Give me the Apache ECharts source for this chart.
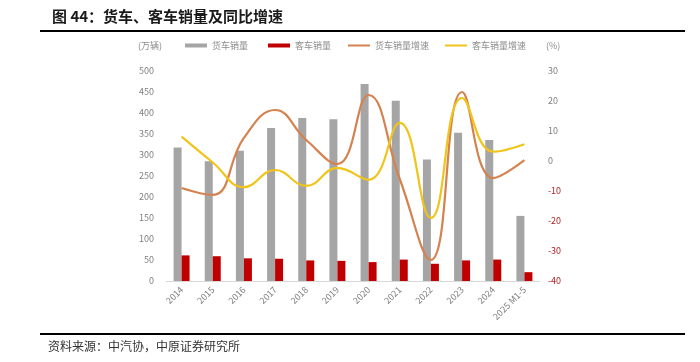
<!DOCTYPE html>
<html><head><meta charset="utf-8">
<script src="https://cdn.jsdelivr.net/npm/echarts@6/dist/echarts.min.js"></script>
<style>html,body{margin:0;padding:0;background:#fff}#c{width:700px;height:362px}</style>
</head><body><div id="c"></div>
<script>
const categories = ['2014','2015','2016','2017','2018','2019','2020','2021','2022','2023','2024','2025 M1-5'];
const truckSales = [318, 285, 310, 364, 388, 385, 469, 429, 289, 353, 336, 155];
const busSales = [61, 59, 54, 53, 49, 48, 45, 51, 41, 49, 51, 21];
const truckGrowth = [-9, -11.3, 7.7, 17, 7, -1, 22, -6, -33, 23, -5.7, 0.3];
const busGrowth = [8.1, -0.5, -8.7, -3, -8.3, -2.3, -6.3, 12.7, -19, 21, 3.1, 5.6];
const leftTicks = [0, 500, 50];
const rightTicks = [-40, 30, 10];

const font = 'Noto Sans CJK SC';
const chart = echarts.init(document.getElementById('c'));
const legendBase = {top: 41, itemWidth: 22, itemHeight: 4, textStyle: {fontSize: 9, color: '#8c8c8c', fontFamily: font}, itemGap: 3, padding: 0};
chart.setOption({
  animation: false,
  textStyle: {fontFamily: font},
  legend: [
    Object.assign({left: 185, data: [{name: '货车销量', icon: 'rect'}]}, legendBase),
    Object.assign({left: 268, data: [{name: '客车销量', icon: 'rect'}]}, legendBase),
    Object.assign({left: 348, data: [{name: '货车销量增速', icon: 'rect'}]}, legendBase, {itemHeight: 2}),
    Object.assign({left: 445, data: [{name: '客车销量增速', icon: 'rect'}]}, legendBase, {itemHeight: 2})
  ],
  grid: {left: 166, right: 160, top: 71, bottom: 81},
  xAxis: {
    type: 'category', data: categories,
    axisLine: {lineStyle: {color: '#d9d9d9'}},
    axisTick: {show: false},
    axisLabel: {rotate: 45, fontSize: 9, color: '#7f7f7f', margin: 7, interval: 0}
  },
  yAxis: [
    {type: 'value', min: leftTicks[0], max: leftTicks[1], interval: leftTicks[2],
     splitLine: {show: false}, axisLine: {show: false}, axisTick: {show: false},
     axisLabel: {fontSize: 9, color: '#7f7f7f', margin: 12}},
    {type: 'value', min: rightTicks[0], max: rightTicks[1], interval: rightTicks[2],
     splitLine: {show: false}, axisLine: {show: false}, axisTick: {show: false},
     axisLabel: {fontSize: 9, margin: 8, color: function(v){ return Number(v) < 0 ? '#b22222' : '#7f7f7f'; }}}
  ],
  series: [
    {name: '货车销量', type: 'bar', data: truckSales, barWidth: 8, barGap: '0%', itemStyle: {color: '#a5a5a5'}},
    {name: '客车销量', type: 'bar', data: busSales, barWidth: 8, barGap: '0%', itemStyle: {color: '#c00000'}},
    {name: '货车销量增速', type: 'line', yAxisIndex: 1, data: truckGrowth, smooth: 0.45, showSymbol: false, lineStyle: {color: '#d4824f', width: 2.2}, itemStyle: {color: '#d4824f'}},
    {name: '客车销量增速', type: 'line', yAxisIndex: 1, data: busGrowth, smooth: 0.45, showSymbol: false, lineStyle: {color: '#f0c419', width: 2.2}, itemStyle: {color: '#f0c419'}}
  ],
  graphic: [
    {type: 'text', left: 52, top: 9, style: {text: '图 44：货车、客车销量及同比增速', fontSize: 15, fontWeight: 'bold', fill: '#1a1a1a', fontFamily: font}},
    {type: 'rect', shape: {x: 40, y: 30, width: 645, height: 2}, style: {fill: '#000'}},
    {type: 'text', left: 138, top: 41, style: {text: '(万辆)', fontSize: 9, fill: '#8c8c8c', fontFamily: font}},
    {type: 'text', left: 546, top: 41, style: {text: '(%)', fontSize: 9, fill: '#8c8c8c', fontFamily: font}},
    {type: 'rect', shape: {x: 40, y: 333, width: 645, height: 2}, style: {fill: '#000'}},
    {type: 'text', left: 48, top: 340, style: {text: '资料来源：中汽协，中原证券研究所', fontSize: 12, fill: '#333', fontFamily: font}}
  ]
});
</script></body></html>
